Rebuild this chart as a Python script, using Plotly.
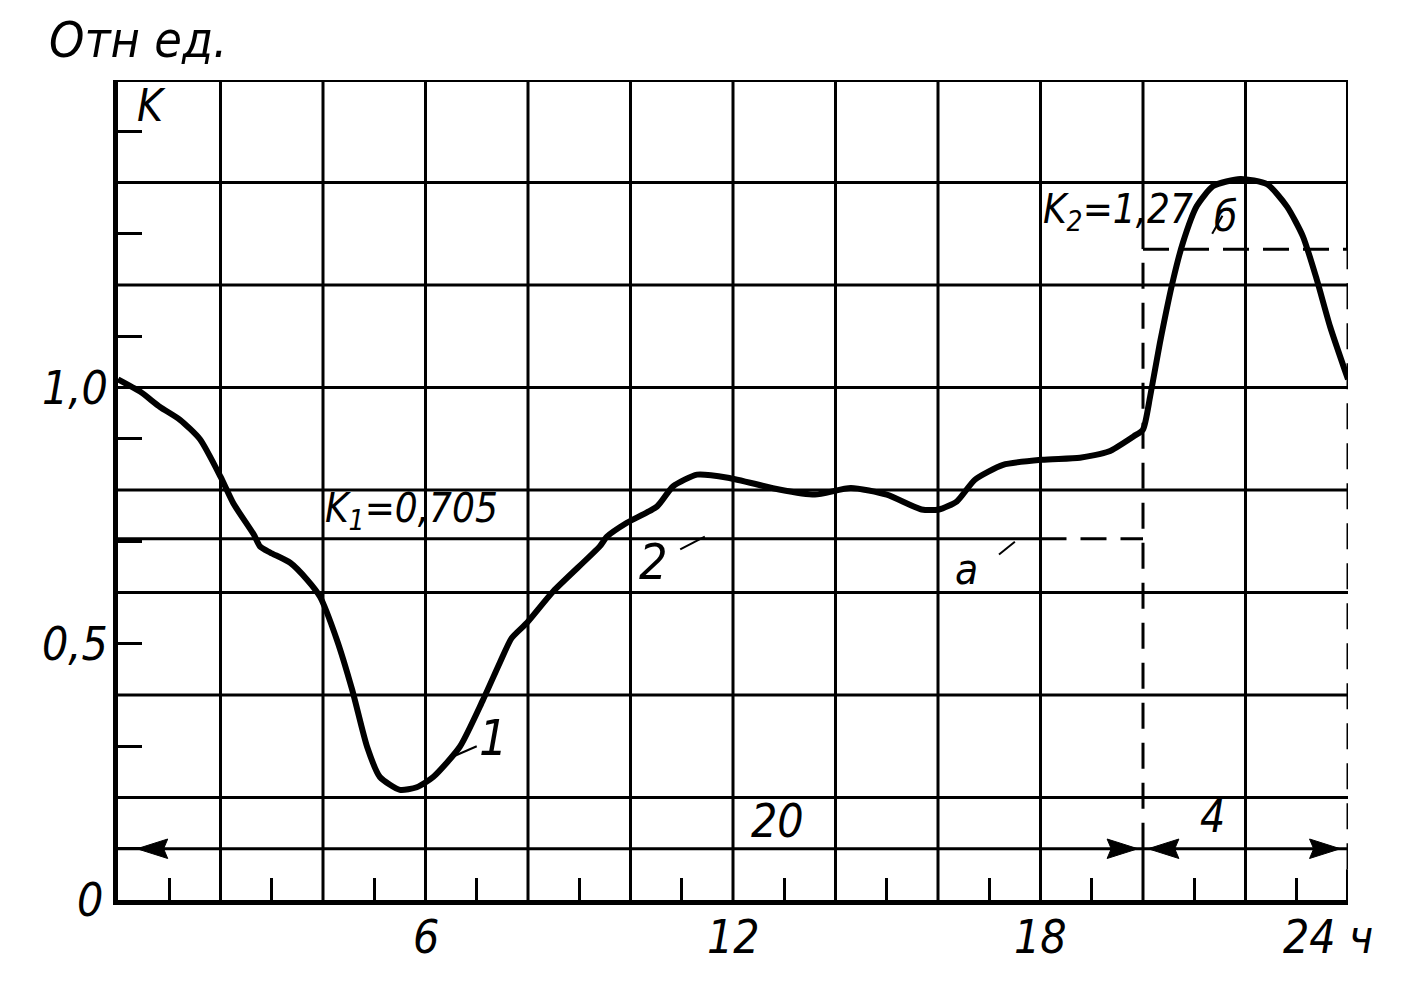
import plotly.graph_objects as go

# ---- data ----
hours = [0, 0.43, 0.82, 1.21, 1.6, 2.0, 2.25, 2.65, 2.77, 2.97, 3.36, 3.69, 3.94,
         4.27, 4.57, 4.86, 5.11, 5.5, 5.83, 6.15, 6.67, 7.12, 7.45, 7.68, 7.98,
         8.49, 9.4, 9.54, 9.93, 10.52, 10.83, 11.3, 11.9, 12.9, 13.6, 14.3, 15.0,
         15.68, 16.02, 16.37, 16.72, 17.27, 18.03, 18.77, 19.33, 19.82, 20.0,
         20.14, 20.33, 20.59, 20.78, 21.05, 21.37, 21.9, 22.42, 22.81, 23.12,
         23.39, 23.65, 24.0]
k_load = [1.016, 0.992, 0.962, 0.937, 0.899, 0.826, 0.774, 0.713, 0.690, 0.678,
          0.658, 0.625, 0.592, 0.508, 0.41, 0.299, 0.24, 0.215, 0.22, 0.24, 0.299,
          0.39, 0.463, 0.511, 0.541, 0.602, 0.690, 0.709, 0.736, 0.768, 0.807,
          0.83, 0.824, 0.801, 0.791, 0.804, 0.791, 0.762, 0.762, 0.778, 0.82,
          0.849, 0.859, 0.863, 0.875, 0.905, 0.918, 0.983, 1.087, 1.211, 1.283,
          1.354, 1.393, 1.407, 1.397, 1.353, 1.295, 1.211, 1.119, 1.016]

K1 = 0.705          # level for the 20-hour period
K2 = 1.27           # level for the 4-hour period
T1 = 20             # hours at K1
T2 = 4              # hours at K2
K1_SOLID_END = 18   # K1 line is drawn solid up to here, dashed afterwards

x_grid = [2, 4, 6, 8, 10, 12, 14, 16, 18, 22]
y_grid = [0.2, 0.4, 0.6, 0.8, 1.0, 1.2, 1.4]
x_minor = [1, 3, 5, 7, 9, 11, 13, 15, 17, 19, 21, 23]
y_minor = [0.1, 0.3, 0.5, 0.7, 0.9, 1.1, 1.3, 1.5]
x_labels = [(6, "6"), (12, "12"), (18, "18"), (23.6, "24 ч")]
y_labels = [(1.0, "1,0"), (0.5, "0,5")]
DIM_Y = 0.1

X_MAX = T1 + T2
Y_TOP = 1.6

FONT = "DejaVu Sans Condensed, DejaVu Sans, Liberation Sans, sans-serif"
BLACK = "black"

fig = go.Figure()

fig.add_trace(go.Scatter(
    x=hours, y=k_load, mode="lines",
    line=dict(color=BLACK, width=6, shape="spline", smoothing=0.6),
    hoverinfo="skip", showlegend=False))

# arrowheads of the dimension lines (20 h and 4 h)
AH_LEN = 0.6
AH_HALF = 0.019
for tip, direction in [(0.37, -1), (T1 - 0.1, 1), (T1 + 0.1, -1), (X_MAX - 0.15, 1)]:
    base = tip - direction * AH_LEN
    fig.add_trace(go.Scatter(
        x=[tip, base, base + direction * 0.08, base, tip],
        y=[DIM_Y, DIM_Y + AH_HALF, DIM_Y, DIM_Y - AH_HALF, DIM_Y],
        mode="lines", fill="toself", fillcolor=BLACK,
        line=dict(color=BLACK, width=1), hoverinfo="skip", showlegend=False))

shapes = []


def seg(x0, y0, x1, y1, w=3, dash="solid"):
    shapes.append(dict(type="line", xref="x", yref="y", x0=x0, y0=y0, x1=x1, y1=y1,
                       line=dict(color=BLACK, width=w, dash=dash), layer="below"))


DASH = "26px,14px"
# grid
for gx in x_grid:
    seg(gx, 0, gx, Y_TOP)
for gy in y_grid:
    seg(0, gy, X_MAX, gy)
# vertical at T1 : solid bottom + top, dashed in between
seg(T1, 0, T1, DIM_Y)
seg(T1, DIM_Y, T1, K2, dash=DASH)
seg(T1, K2, T1, Y_TOP)
# right border
seg(X_MAX, 0, X_MAX, 0.06, w=4)
seg(X_MAX, 0.06, X_MAX, K2, w=3, dash=DASH)
seg(X_MAX, K2, X_MAX, Y_TOP, w=4)
# top border
seg(0, Y_TOP, X_MAX, Y_TOP, w=4)
# dimension line
seg(0, DIM_Y, X_MAX, DIM_Y)
# step graph 2
seg(0, K1, K1_SOLID_END, K1)
seg(K1_SOLID_END, K1, T1, K1, dash=DASH)
seg(T1, K2, X_MAX, K2, dash=DASH)
# leader lines
seg(6.54, 0.28, 7.0, 0.30, w=2)      # curve 1
seg(10.97, 0.684, 11.45, 0.709, w=2)  # 2
seg(17.19, 0.674, 17.5, 0.699, w=2)   # а
seg(21.35, 1.30, 21.55, 1.335, w=2)   # б

annotations = []


def txt(x, y, s, size, xref="x", yref="y", xanchor="center", yanchor="middle"):
    annotations.append(dict(x=x, y=y, xref=xref, yref=yref, text=s, showarrow=False,
                            xanchor=xanchor, yanchor=yanchor,
                            font=dict(family=FONT, size=size, color=BLACK, style="italic")))


for xv, s in x_labels:
    txt(xv, -0.045, s, 46, yref="paper")
for yv, s in y_labels:
    txt(-0.0065, yv, s, 46, xref="paper", xanchor="right")
txt(-0.0228, 0.0, "0", 46, xref="paper")
txt(-0.0577, 1.0488, "Отн ед.", 50, xref="paper", yref="paper", xanchor="left")
txt(0.33, 1.55, "K", 44, xanchor="left")
txt(4.0, 0.76, "K<sub>1</sub>=0,705", 40, xanchor="left")
txt(18.0, 1.343, "K<sub>2</sub>=1,27", 40, xanchor="left")
txt(21.6, 1.333, "б", 42)
txt(7.32, 0.316, "1", 50)
txt(10.45, 0.66, "2", 50)
txt(16.55, 0.645, "а", 42)
txt(12.87, 0.155, "20", 46)
txt(21.35, 0.162, "4", 44)

# the page body adds an 8px offset: the figure is shrunk so the plot area lands
# on the same pixels as the reference
fig.update_layout(
    width=1399, height=986,
    margin=dict(l=110, r=59, t=72, b=94),
    paper_bgcolor="white", plot_bgcolor="white",
    shapes=shapes, annotations=annotations,
    showlegend=False,
    xaxis=dict(range=[0, X_MAX], showgrid=False, zeroline=False,
               showline=True, linewidth=5, linecolor=BLACK,
               tickvals=x_minor, ticks="inside", ticklen=22, tickwidth=3,
               tickcolor=BLACK, showticklabels=False, fixedrange=True),
    yaxis=dict(range=[0, Y_TOP], showgrid=False, zeroline=False,
               showline=True, linewidth=5, linecolor=BLACK,
               tickvals=y_minor, ticks="inside", ticklen=24, tickwidth=3,
               tickcolor=BLACK, showticklabels=False, fixedrange=True),
)

fig.write_html("out.html")
